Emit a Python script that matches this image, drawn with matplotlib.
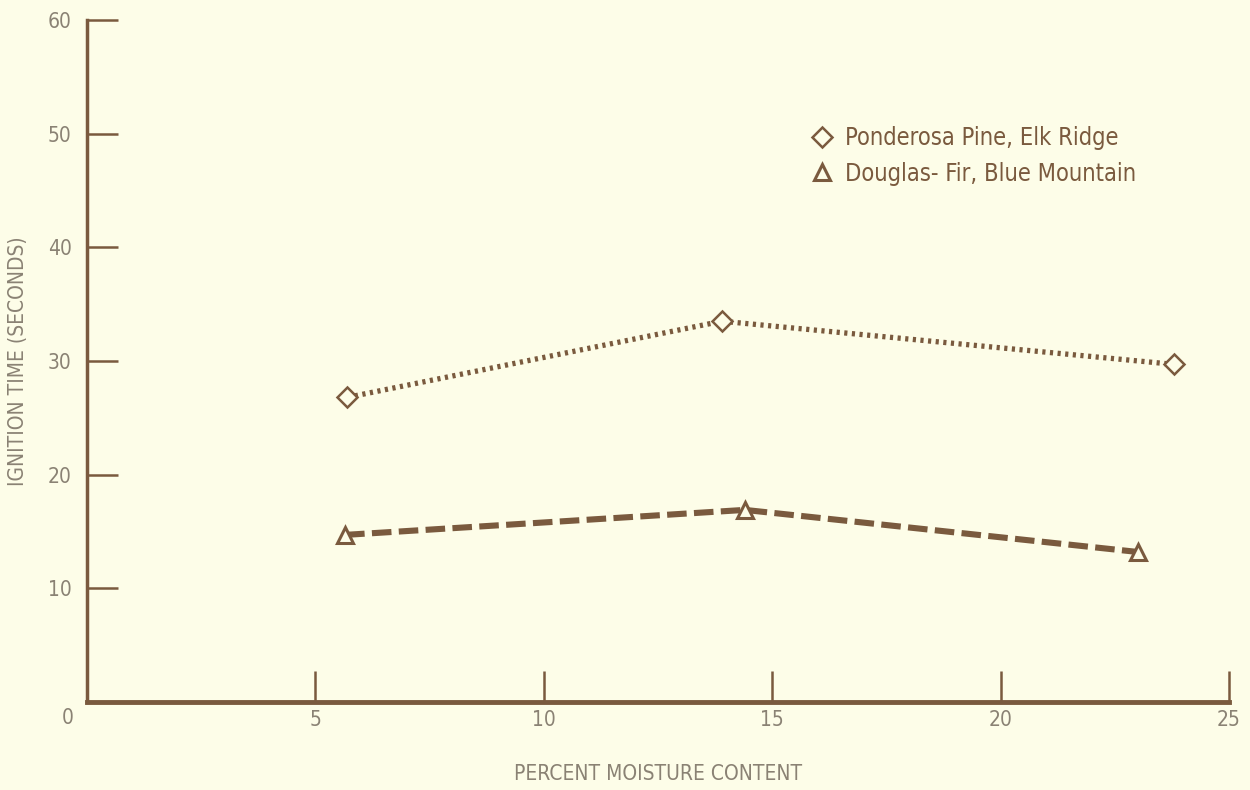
#!/usr/bin/env python3
"""Ignition time vs. percent moisture content, two fuels."""

import matplotlib
matplotlib.use("Agg")
import matplotlib.pyplot as plt
from matplotlib.font_manager import FontProperties

# Data
moisture_pine = [5.7, 13.9, 23.8]
ignition_pine = [26.8, 33.5, 29.7]

moisture_fir = [5.65, 14.4, 23.0]
ignition_fir = [14.7, 16.9, 13.2]

x_ticks = [5, 10, 15, 20, 25]
y_ticks = [10, 20, 30, 40, 50, 60]

label_pine = "Ponderosa Pine, Elk Ridge"
label_fir = "Douglas- Fir, Blue Mountain"

BG = "#fdfde8"
INK = "#7a5a3e"
TEXT = "#8a8274"

plt.rcParams["font.family"] = ["DejaVu Sans"]
plt.rcParams["font.stretch"] = "condensed"

fig = plt.figure(figsize=(12.5, 7.9), dpi=100, facecolor=BG)
ax = fig.add_axes([0.0696, 0.1114, 0.9136, 0.8633], facecolor=BG)

ax.plot(moisture_pine, ignition_pine, linestyle=(0, (0.6, 0.85)), linewidth=3.8,
        color=INK, marker="D", markersize=10, markerfacecolor=BG,
        markeredgecolor=INK, markeredgewidth=1.8, zorder=3)
ax.plot(moisture_fir, ignition_fir, linestyle=(0, (3.2, 1.2)), linewidth=4.4,
        color=INK, marker="^", markersize=11, markerfacecolor=BG,
        markeredgecolor=INK, markeredgewidth=2.2, zorder=3)

ax.set_xlim(0, 25)
ax.set_ylim(0, 60)
ax.set_xticks(x_ticks)
ax.set_yticks(y_ticks)
ax.tick_params(axis="both", direction="in", length=22, width=1.8,
               color=INK, labelcolor=TEXT, labelsize=15)
ax.tick_params(axis="x", pad=6)
ax.tick_params(axis="y", pad=11)

for side in ("top", "right"):
    ax.spines[side].set_visible(False)
ax.spines["left"].set_linewidth(2.5)
ax.spines["bottom"].set_linewidth(3.5)
ax.spines["left"].set_color(INK)
ax.spines["bottom"].set_color(INK)

# origin label sits below-left of the corner
ax.text(-0.42, -1.4, "0", fontsize=15, color=TEXT, ha="center", va="center")

ax.set_ylabel("IGNITION TIME (SECONDS)", fontsize=15, color=TEXT, labelpad=14)
ax.set_xlabel("PERCENT MOISTURE CONTENT", fontsize=15, color=TEXT, labelpad=24)

leg = ax.legend([ax.lines[0], ax.lines[1]], [label_pine, label_fir],
                loc="upper left", bbox_to_anchor=(0.616, 0.876),
                frameon=False, labelcolor=INK,
                prop=FontProperties(family="DejaVu Sans", stretch="condensed", size=17),
                handlelength=0.9, handletextpad=0.5, labelspacing=0.5)
for h in leg.legend_handles:
    h.set_linestyle("none")

fig.savefig("out.png", dpi=100, facecolor=BG)
